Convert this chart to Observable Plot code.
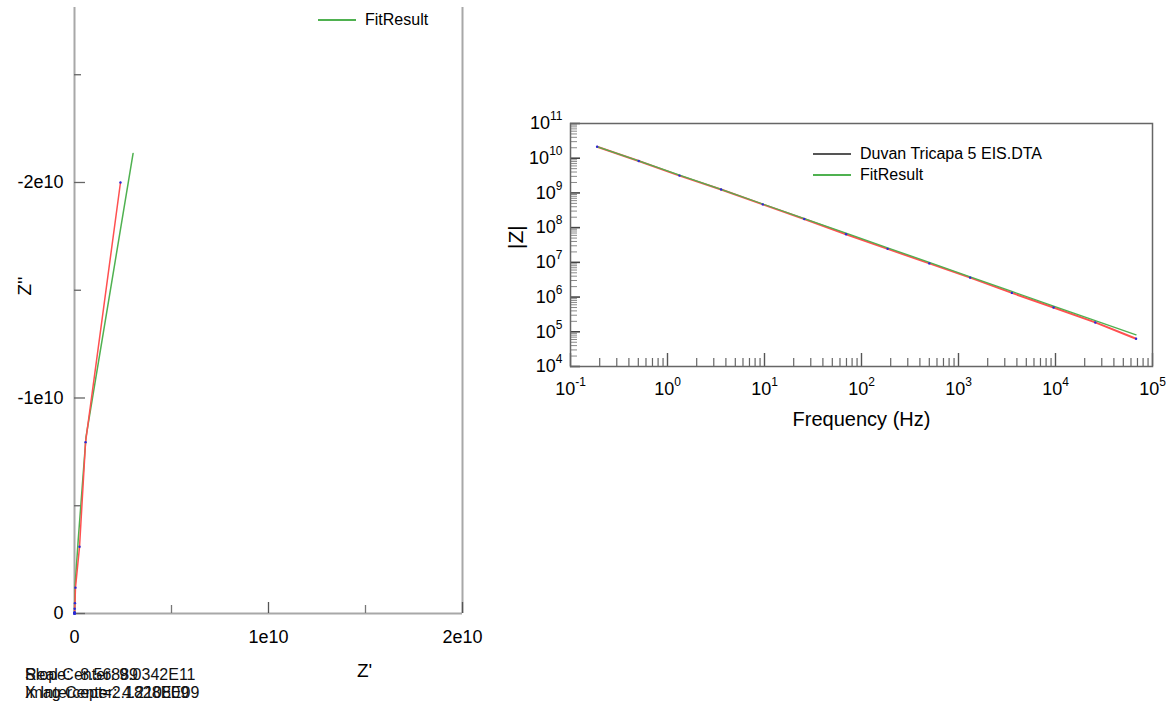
<!DOCTYPE html>
<html><head><meta charset="utf-8">
<script src="https://cdn.jsdelivr.net/npm/d3@7"></script>
<script src="https://cdn.jsdelivr.net/npm/@observablehq/plot@0.6"></script>
<style>
body{margin:0;background:#fff;font-family:"Liberation Sans",Arial,sans-serif;}
#wrap{position:relative;width:1170px;height:708px;overflow:hidden;background:#fff}
.abs{position:absolute}
.lg{position:absolute;font-size:16px;line-height:16px;color:#000;white-space:nowrap}
.cap{position:absolute;font-size:16px;line-height:16px;color:#111;white-space:nowrap}
</style></head><body><div id="wrap"></div>
<script>
// ---- data ----
const freq       = [0.188, 0.505, 1.33, 3.57, 9.6, 25.7, 69.3, 186, 500, 1320, 3550, 9550, 25700, 67700];
const zModData   = [2.14e10, 8.3e9, 3.16e9, 1.26e9, 4.68e8, 1.78e8, 6.46e7, 2.45e7, 9.33e6, 3.63e6, 1.32e6, 5.01e5, 1.86e5, 6.3e4];
const zModFit    = [2.15e10, 8.4e9, 3.25e9, 1.27e9, 4.8e8, 1.82e8, 6.9e7, 2.63e7, 1.0e7, 3.8e6, 1.45e6, 5.5e5, 2.1e5, 8.2e4];
const zRealData  = [2.37e9, 5.7e8, 2.6e8, 5e7, 2.5e7, 1e7, 4e6, 1.5e6, 6e5, 2.5e5, 1e5, 4e4, 1.5e4, 6e3];
const zImagData  = [-2.0e10, -7.95e9, -3.1e9, -1.2e9, -4.8e8, -2.2e8, -6e7, -2.4e7, -9e6, -3.5e6, -1.3e6, -5e5, -1.8e5, -6e4];
const zRealFit   = [3.02e9, 5.9e8, 1.9e8, 3e7, 1.2e7, 5e6, 2e6, 8e5, 3e5, 1.2e5, 5e4, 2e4, 8e3, 3e3];
const zImagFit   = [-2.135e10, -8.17e9, -3.4e9, -1.3e9, -4.9e8, -1.9e8, -7e7, -2.6e7, -1e7, -3.8e6, -1.45e6, -5.5e5, -2.1e5, -8e4];

const nyqXTicks  = [0, 1e10, 2e10];
const nyqXLabels = ["0", "1e10", "2e10"];
const nyqXMinor  = [5e9, 1.5e10];
const nyqYTicks  = [0, -1e10, -2e10];
const nyqYLabels = ["0", "-1e10", "-2e10"];
const nyqYMinor  = [-5e9, -1.5e10, -2.5e10];

const bodeXDecades = [-1, 0, 1, 2, 3, 4, 5];
const bodeYDecades = [4, 5, 6, 7, 8, 9, 10, 11];
const minorMult    = [2, 3, 4, 5, 6, 7, 8, 9];

const seriesNames = ["Duvan Tricapa 5 EIS.DTA", "FitResult"];
const captionLines = [
  ["Real Center: 9.0342E11", "Slope: -8.56889"],
  ["Imag Center: 4.2108E09", "X Intercept=2.1828E09"]
];

const RED = "#ff5050", GREEN = "#4fb150", BLUE = "#2a2ad8", FONT = "'Liberation Sans', Arial, sans-serif";

// ---- tables ----
const dataRows = freq.map((f, i) => ({f, zmod: zModData[i], zre: zRealData[i], zim: zImagData[i]}));
const fitRows  = freq.map((f, i) => ({f, zmod: zModFit[i], zre: zRealFit[i], zim: zImagFit[i]}));
const bodeXMajor = bodeXDecades.map(d => Math.pow(10, d));
const bodeYMajor = bodeYDecades.map(d => Math.pow(10, d));
const bodeXMinor = bodeXDecades.slice(0, -1).flatMap(d => minorMult.map(m => m * Math.pow(10, d)));
const bodeYMinor = bodeYDecades.slice(0, -1).flatMap(d => minorMult.map(m => m * Math.pow(10, d)));
const pow10Label = d => "10^" + Math.round(Math.log10(d));

const wrap = document.getElementById("wrap");

// ---- Nyquist ----
const NW = 500, NH = 650, NL = 74, NR = 38, NT = 7, NB = 37;
const nIH = NH - NT - NB, nIW = NW - NL - NR;
const nyq = Plot.plot({
  width: NW, height: NH, marginLeft: NL, marginRight: NR, marginTop: NT, marginBottom: NB,
  style: {fontFamily: FONT, fontSize: "18px", color: "#000", background: "transparent", overflow: "visible"},
  x: {domain: [0, 2e10]},
  y: {domain: [0, -2.812e10]},
  marks: [
    Plot.ruleX([0, 2e10], {stroke: "#a8a8a8", strokeWidth: 2}),
    Plot.ruleY([0], {stroke: "#a8a8a8", strokeWidth: 2}),
    Plot.tickX(nyqXTicks, {x: d => d, insetTop: nIH - 11, stroke: "#555", strokeWidth: 1.3}),
    Plot.tickX(nyqXMinor, {x: d => d, insetTop: nIH - 8, stroke: "#777", strokeWidth: 1.3}),
    Plot.tickY(nyqYTicks, {y: d => d, insetRight: nIW - 11, stroke: "#666", strokeWidth: 1.3}),
    Plot.tickY(nyqYMinor, {y: d => d, insetRight: nIW - 7, stroke: "#666", strokeWidth: 1.3}),
    Plot.axisX(nyqXTicks, {label: null, tickSize: 0, tickPadding: 17, tickFormat: d => nyqXLabels[nyqXTicks.indexOf(d)]}),
    Plot.axisY(nyqYTicks, {label: null, tickSize: 0, tickPadding: 11, tickFormat: d => nyqYLabels[nyqYTicks.indexOf(d)]}),
    Plot.line(fitRows, {x: "zre", y: "zim", stroke: GREEN, strokeWidth: 1.5}),
    Plot.line(dataRows, {x: "zre", y: "zim", stroke: RED, strokeWidth: 1.5}),
    Plot.dot(dataRows, {x: "zre", y: "zim", r: 1.2, fill: BLUE, stroke: null}),
    Plot.text(["Z'"], {text: d => d, frameAnchor: "bottom", dx: 96, dy: 63, fontSize: 19}),
    Plot.text(["Z''"], {text: d => d, frameAnchor: "left", dx: -50, dy: -15, rotate: -90, fontSize: 19})
  ]
});
nyq.classList.add("abs");
nyq.style.left = "0px"; nyq.style.top = "0px";
wrap.appendChild(nyq);

// ---- Bode ----
const BW = 690, BH = 350, BL = 90, BR = 18, BT = 23, BB = 84;
const bIH = BH - BT - BB, bIW = BW - BL - BR;
const bode = Plot.plot({
  width: BW, height: BH, marginLeft: BL, marginRight: BR, marginTop: BT, marginBottom: BB,
  style: {fontFamily: FONT, fontSize: "18px", color: "#000", background: "transparent", overflow: "visible"},
  x: {type: "log", domain: [0.1, 1e5]},
  y: {type: "log", domain: [1e4, 1e11]},
  marks: [
    Plot.tickX(bodeXMinor, {x: d => d, insetTop: bIH - 8, stroke: "#666", strokeWidth: 1.2}),
    Plot.tickX(bodeXMajor, {x: d => d, insetTop: bIH - 13, stroke: "#555", strokeWidth: 1.4}),
    Plot.tickY(bodeYMinor, {y: d => d, insetRight: bIW - 7, stroke: "#8a8a8a", strokeWidth: 1}),
    Plot.tickY(bodeYMajor, {y: d => d, insetRight: bIW - 10, stroke: "#444", strokeWidth: 1.6}),
    Plot.frame({stroke: "#666", strokeWidth: 1.5}),
    Plot.axisX(bodeXMajor, {label: null, tickSize: 0, tickPadding: 16, tickFormat: pow10Label}),
    Plot.axisY(bodeYMajor, {label: null, tickSize: 0, tickPadding: 8, tickFormat: pow10Label}),
    Plot.line(dataRows, {x: "f", y: "zmod", stroke: RED, strokeWidth: 2}),
    Plot.line(fitRows, {x: "f", y: "zmod", stroke: GREEN, strokeWidth: 1.3}),
    Plot.dot(dataRows, {x: "f", y: "zmod", r: 1.2, fill: BLUE, stroke: null}),
    Plot.text(["Frequency (Hz)"], {text: d => d, frameAnchor: "bottom", dy: 59, fontSize: 20}),
    Plot.text(["|Z|"], {text: d => d, frameAnchor: "left", dx: -54, dy: 4, rotate: -90, fontSize: 21})
  ]
});
// superscripts for 10^n labels
bode.querySelectorAll('g[aria-label$="tick label"] text').forEach(t => {
  const s = t.textContent;
  if (!s.includes("^")) return;
  const [base, exp] = s.split("^");
  t.textContent = "";
  const ns = "http://www.w3.org/2000/svg";
  const b = document.createElementNS(ns, "tspan"); b.textContent = base; t.appendChild(b);
  const e = document.createElementNS(ns, "tspan");
  e.setAttribute("dy", "-9"); e.setAttribute("font-size", "12px"); e.textContent = exp; t.appendChild(e);
});
bode.classList.add("abs");
bode.style.left = "480px"; bode.style.top = "100px";
wrap.appendChild(bode);

// ---- legends ----
function legendItem(x, y, color, label) {
  const svg = document.createElementNS("http://www.w3.org/2000/svg", "svg");
  svg.setAttribute("width", "38"); svg.setAttribute("height", "4");
  svg.classList.add("abs");
  svg.style.left = x + "px"; svg.style.top = (y - 2) + "px";
  svg.innerHTML = `<line x1="0" x2="38" y1="2" y2="2" stroke="${color}" stroke-width="2"/>`;
  wrap.appendChild(svg);
  const d = document.createElement("div");
  d.className = "lg"; d.textContent = label;
  d.style.left = (x + 47) + "px"; d.style.top = (y - 8) + "px";
  wrap.appendChild(d);
}
legendItem(318, 20, GREEN, seriesNames[1]);
legendItem(813, 154, "#555", seriesNames[0]);
legendItem(813, 174.5, GREEN, seriesNames[1]);

// ---- caption (overlapping texts, as in the source) ----
captionLines.forEach((pair, i) => {
  pair.forEach(txt => {
    const d = document.createElement("div");
    d.className = "cap"; d.textContent = txt;
    d.style.left = "25px"; d.style.top = (667 + i * 17.5) + "px";
    wrap.appendChild(d);
  });
});
</script></body></html>
